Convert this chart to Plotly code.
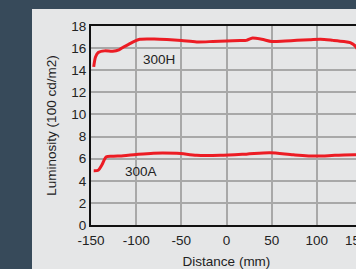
import plotly.graph_objects as go

# Data
dist_h = [-147, -145, -142, -135, -126, -119, -114, -107, -101, -96, -80, -66, -50, -33, -15, 0, 15, 22, 28, 39, 50, 65, 78, 92, 104, 118, 130, 137, 143.5, 148]
lum_h = [14.3, 15.2, 15.6, 15.75, 15.72, 15.85, 16.1, 16.4, 16.65, 16.8, 16.82, 16.77, 16.68, 16.56, 16.6, 16.65, 16.68, 16.7, 16.9, 16.8, 16.6, 16.65, 16.7, 16.75, 16.8, 16.7, 16.6, 16.5, 16.1, 15.2]

dist_a = [-147, -142, -138, -133, -125, -114, -100, -81, -55, -33, -7, 22, 48, 74, 100, 120, 143.5, 148]
lum_a = [4.9, 4.95, 5.42, 6.17, 6.22, 6.26, 6.38, 6.5, 6.48, 6.3, 6.3, 6.41, 6.53, 6.35, 6.23, 6.3, 6.35, 6.3]

x_ticks = [-150, -100, -50, 0, 50, 100, 150]
x_tick_text = ["-150", "-100", "-50", "0", "50", "100", "150\u00a0\u00a0\u00a0"]
y_ticks = [0, 2, 4, 6, 8, 10, 12, 14, 16, 18]

label_names = ["300H", "300A"]
label_x = [-75, -95]
label_y = [15.0, 4.85]

RED = "#ec1c24"
DARK = "#374a5a"
PANEL = "#e5e6e7"
FONT = "Liberation Sans, Arial, sans-serif"

fig = go.Figure()
fig.add_trace(go.Scatter(x=dist_h, y=lum_h, mode="lines",
                         line=dict(color=RED, width=3, shape="spline", smoothing=0.8),
                         showlegend=False, hoverinfo="skip"))
fig.add_trace(go.Scatter(x=dist_a, y=lum_a, mode="lines",
                         line=dict(color=RED, width=3, shape="spline", smoothing=0.8),
                         showlegend=False, hoverinfo="skip"))

for name, xx, yy in zip(label_names, label_x, label_y):
    fig.add_annotation(x=xx, y=yy, text=name, showarrow=False,
                       font=dict(family=FONT, size=13.5, color="#222222"))

W, H = 382, 269
L, R, T, B = 91, 20, 26, 44
pw = W - L - R
ph = H - T - B

# light panel behind plot (dark band on left and top)
fig.add_shape(type="rect", xref="paper", yref="paper",
              x0=(32 - L) / pw, x1=1.5, y0=-0.5, y1=(H - B - 9) / ph,
              fillcolor=PANEL, line=dict(width=0), layer="below")

fig.update_layout(
    width=W, height=H,
    margin=dict(l=L, r=R, t=T, b=B, pad=0, autoexpand=False),
    paper_bgcolor=DARK,
    plot_bgcolor=PANEL,
    font=dict(family=FONT, size=13.5, color="#222222"),
    xaxis=dict(range=[-150, 150], tickvals=x_ticks, ticktext=x_tick_text,
               automargin=False,
               showgrid=True, gridcolor="#a8a8a8", gridwidth=1.5,
               showline=True, linecolor="#111111", linewidth=2, mirror=True,
               zeroline=False, ticks="outside", ticklen=2, tickcolor="rgba(0,0,0,0)",
               title=dict(text="Distance (mm)", standoff=9,
                          font=dict(family=FONT, size=13.5, color="#222222"))),
    yaxis=dict(range=[0, 18], tickvals=y_ticks,
               automargin=False,
               showgrid=True, gridcolor="#a8a8a8", gridwidth=1.5,
               showline=True, linecolor="#111111", linewidth=2,
               zeroline=False, ticks="", ticklen=0,
               title=dict(text="Luminosity (100 cd/m2)", standoff=12,
                          font=dict(family=FONT, size=13.5, color="#222222"))),
)

fig.write_html("out.html", config={"displayModeBar": False},
               post_script="document.body.style.margin='0';document.body.style.overflow='hidden';document.documentElement.style.overflow='hidden';")
